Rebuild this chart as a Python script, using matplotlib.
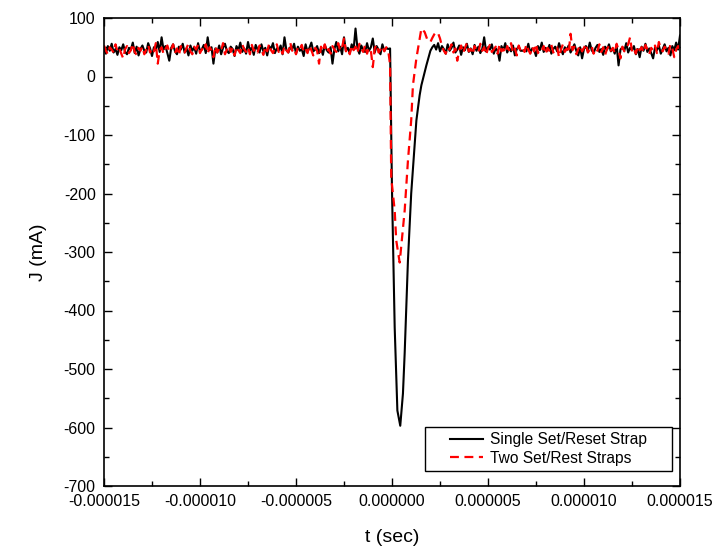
import numpy as np
import matplotlib.pyplot as plt
from matplotlib.ticker import MultipleLocator, FuncFormatter
from matplotlib.patches import Rectangle

plt.rcParams['font.family'] = ['Liberation Sans', 'DejaVu Sans']
plt.rcParams['axes.unicode_minus'] = False

# time in microseconds; baseline sampled every 0.1 us (left from -15.0, right from 2.1)
# Single Set/Reset Strap
black_left = [48, 39, 52, 44, 56, 41, 47, 37, 50, 45,
              55, 42, 38, 49, 46, 58, 40, 51, 36, 47,
              53, 44, 41, 57, 48, 35, 50, 45, 59, 42,
              67, 46, 52, 40, 27, 49, 55, 43, 38, 51,
              46, 56, 41, 48, 36, 53, 44, 50, 39, 57,
              43, 47, 54, 40, 67, 45, 50, 22, 48, 41,
              53, 38, 49, 56, 44, 40, 51, 47, 35, 52,
              45, 58, 42, 48, 39, 59, 44, 50, 37, 54,
              46, 41, 55, 43, 49, 36, 52, 47, 57, 40,
              48, 44, 53, 38, 67, 45, 41, 50, 46, 56,
              39, 51, 44, 47, 35, 55, 42, 49, 58, 43,
              46, 52, 40, 48, 37, 54, 45, 41, 50, 22,
              47, 59, 43, 51, 38, 67, 44, 49, 40, 55,
              46, 82, 48, 39, 53, 45, 42, 57, 44, 50,
              65, 41, 52, 46, 38, 55, 44, 49, 47]
t_dip_black = [-0.1, 0.0, 0.14, 0.28, 0.43, 0.57, 0.66, 0.83, 1.0, 1.27, 1.44, 1.53, 1.79, 2.0]
black_dip = [48, -195, -429, -571, -597, -542, -473, -315, -200, -75, -32, -15, 19, 44]
black_right = [50, 54, 46, 57, 43, 52, 47, 39, 55, 44,
               49, 58, 41, 46, 53, 37, 50, 45, 56, 42,
               48, 38, 54, 44, 51, 40, 47, 67, 43, 50,
               46, 55, 39, 48, 44, 27, 52, 45, 57, 41,
               49, 43, 53, 36, 47, 51, 44, 44, 45, 43,
               56, 40, 48, 46, 35, 52, 45, 58, 42, 49,
               44, 54, 39, 47, 51, 43, 57, 46, 38, 50,
               45, 53, 41, 48, 55, 44, 36, 50, 31, 47,
               52, 43, 58, 45, 40, 49, 54, 42, 47, 37,
               51, 46, 55, 43, 48, 39, 53, 19, 46, 50,
               44, 57, 41, 49, 45, 52, 38, 47, 33, 51,
               44, 56, 42, 48, 40, 31, 50, 45, 53, 39,
               47, 55, 43, 49, 36, 52, 45, 58, 46, 70]

# Two Set/Rest Straps
red_left = [53, 44, 38, 50, 46, 41, 55, 43, 48, 39,
            31, 47, 52, 40, 45, 56, 42, 37, 49, 44,
            51, 38, 46, 54, 41, 48, 43, 57, 22, 45,
            50, 39, 47, 53, 42, 46, 55, 40, 48, 36,
            52, 44, 41, 49, 56, 43, 38, 51, 46, 54,
            40, 47, 43, 55, 39, 50, 45, 33, 52, 41,
            48, 44, 57, 38, 46, 53, 42, 49, 36, 51,
            45, 40, 55, 47, 42, 50, 38, 54, 44, 48,
            41, 53, 46, 37, 51, 43, 56, 45, 40, 49,
            55, 42, 47, 39, 52, 45, 41, 58, 44, 48,
            38, 50, 46, 54, 42, 47, 40, 53, 45, 36,
            49, 44, 22, 51, 43, 55, 41, 47, 39, 52,
            46, 42, 57, 44, 50, 65, 43, 48, 38, 53,
            45, 51, 40, 56, 47, 42, 54, 39, 49, 44,
            16, 48, 55, 41, 46, 52, 43, 50, 45]
t_dip_red = [-0.1, -0.04, 0.14, 0.22, 0.4, 0.66, 0.83, 1.0, 1.09, 1.27, 1.53, 1.7, 1.85, 2.0]
red_dip = [20, -173, -229, -280, -318, -229, -144, -75, -15, 31, 82, 76, 62, 59]
red_right = [66, 72, 76, 74, 65, 52, 44, 39, 50, 46,
             55, 41, 48, 27, 45, 53, 40, 49, 57, 43,
             47, 38, 52, 45, 41, 56, 44, 50, 37, 48,
             54, 42, 46, 51, 39, 55, 43, 47, 40, 52,
             45, 57, 41, 48, 36, 53, 44, 49, 42, 55,
             46, 39, 51, 43, 56, 40, 47, 45, 52, 38,
             49, 44, 54, 41, 47, 50, 33, 46, 55, 42,
             48, 40, 73, 45, 51, 38, 47, 53, 43, 49,
             56, 41, 46, 52, 39, 48, 44, 55, 42, 50,
             37, 47, 53, 44, 49, 40, 56, 45, 31, 51,
             43, 48, 55, 67, 42, 47, 39, 52, 45, 50,
             41, 54, 46, 38, 49, 44, 53, 40, 59, 47,
             43, 51, 45, 39, 55, 48, 33, 46, 52, 44]


def build(left, t_dip, dip, right):
    t_l = np.round(-15.0 + 0.1 * np.arange(len(left)), 2)
    t_r = np.round(2.1 + 0.1 * np.arange(len(right)), 2)
    t = np.concatenate([t_l, t_dip, t_r]) * 1e-6
    return t, np.concatenate([left, dip, right])


t_black, j_black = build(black_left, t_dip_black, black_dip, black_right)
t_red, j_red = build(red_left, t_dip_red, red_dip, red_right)

fig = plt.figure(figsize=(7.17, 5.52), dpi=100)
ax = fig.add_axes([104 / 717, 1 - 486 / 552, 576 / 717, 468 / 552])

ax.plot(t_black, j_black, color='black', lw=1.5, label='Single Set/Reset Strap')
ax.plot(t_red, j_red, color='red', lw=1.6, ls=(0, (4, 2.5)), label='Two Set/Rest Straps')

ax.set_xlim(-1.5e-5, 1.5e-5)
ax.set_ylim(-700, 100)
ax.xaxis.set_major_locator(MultipleLocator(5e-6))
ax.xaxis.set_minor_locator(MultipleLocator(2.5e-6))
ax.yaxis.set_major_locator(MultipleLocator(100))
ax.yaxis.set_minor_locator(MultipleLocator(50))
ax.xaxis.set_major_formatter(FuncFormatter(lambda v, p: f'{0.0 if abs(v) < 1e-12 else v:.6f}'))

ax.tick_params(which='both', direction='in', top=True, right=True, labelsize=11.5, width=1)
ax.tick_params(which='major', length=6, pad=6)
ax.tick_params(which='minor', length=3.5)
for s in ax.spines.values():
    s.set_linewidth(1.2)

ax.set_xlabel('t (sec)', fontsize=14, labelpad=14)
ax.set_ylabel('J (mA)', fontsize=14, labelpad=12)

# legend box drawn separately (wide side padding as in the original)
bx0, bx1 = (425 - 104) / 576, (672 - 104) / 576
by0, by1 = (486 - 471) / 468, (486 - 427) / 468
ax.add_patch(Rectangle((bx0, by0), bx1 - bx0, by1 - by0, transform=ax.transAxes,
                       facecolor='white', edgecolor='black', lw=1.0, zorder=5))
leg = ax.legend(loc='center', bbox_to_anchor=((bx0 + bx1) / 2, (by0 + by1) / 2),
                fontsize=11.2, frameon=False, handlelength=2.1, handletextpad=0.45,
                labelspacing=0.2, borderpad=0.0)
leg.set_zorder(6)

fig.savefig('out.png', dpi=100)
